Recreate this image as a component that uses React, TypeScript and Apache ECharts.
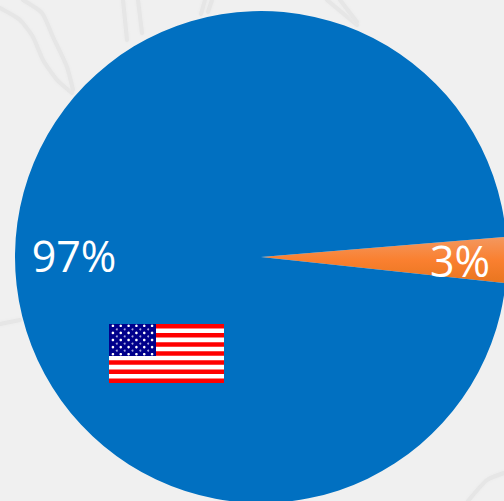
import React, { useEffect, useRef } from "react";
import * as echarts from "echarts";

const categories = ["Other", "USA"];
const values = [3, 97];
const sliceColors = ["#f57f2c", "#0170c1"];

const mapLines: number[][][] = [
  [[0, 8], [20, 20], [33, 37], [43, 60], [57, 80], [72, 93]],
  [[23, 0], [42, 13], [53, 37], [67, 67], [73, 90]],
  [[123, 0], [127, 40]],
  [[138, 0], [142, 33]],
  [[205, 0], [201, 14]],
  [[212, 0], [208, 12]],
  [[327, 0], [357, 25]],
  [[340, 0], [357, 22]],
  [[0, 324], [20, 320]],
  [[504, 473], [487, 480], [468, 501]],
];

const FLAG = { x: 109, y: 324, w: 115, h: 59, cw: 47, ch: 32 };

function flagElements() {
  const out: any[] = [];
  const sh = FLAG.h / 13;
  out.push({ type: "rect", shape: { x: FLAG.x, y: FLAG.y, width: FLAG.w, height: FLAG.h }, style: { fill: "#ffffff" }, z: 20 });
  for (let i = 0; i < 13; i += 2) {
    out.push({ type: "rect", shape: { x: FLAG.x, y: FLAG.y + i * sh, width: FLAG.w, height: sh }, style: { fill: "#ff0000" }, z: 21 });
  }
  out.push({ type: "rect", shape: { x: FLAG.x, y: FLAG.y, width: FLAG.cw, height: FLAG.ch }, style: { fill: "#00008b" }, z: 22 });
  for (let r = 0; r < 9; r++) {
    const n = r % 2 === 0 ? 6 : 5;
    for (let c = 0; c < n; c++) {
      const sx = FLAG.cw / 6;
      const x = FLAG.x + sx * (c + (r % 2 === 0 ? 0.5 : 1));
      const y = FLAG.y + (FLAG.ch / 9) * (r + 0.5);
      out.push({ type: "circle", shape: { cx: x, cy: y, r: r % 2 === 0 ? 1.3 : 1 }, style: { fill: r % 2 === 0 ? "#ffffff" : "#a9a9dc" }, z: 23 });
    }
  }
  return out;
}

export default function App() {
  const ref = useRef<HTMLDivElement>(null);
  useEffect(() => {
    document.body.style.margin = "0";
    const chart = echarts.init(ref.current!, undefined, { renderer: "svg" });
    chart.setOption({
      animation: false,
      backgroundColor: "#f0f0f0",
      graphic: [
        ...mapLines.map((pts) => ({
          type: "polyline",
          z: -1,
          silent: true,
          shape: { points: pts, smooth: 0.2 },
          style: { stroke: "#e6e6e6", lineWidth: 4, fill: null, lineJoin: "round", lineCap: "round", shadowBlur: 3, shadowColor: "#e9e9e9" },
        })),
        ...flagElements(),
      ],
      series: [
        {
          type: "pie",
          center: [261, 257],
          radius: [0, 246],
          startAngle: 4.7,
          clockwise: true,
          z: 5,
          silent: true,
          label: {
            show: true,
            position: "inside",
            formatter: "{d}%",
            color: "#ffffff",
            fontFamily: "Open Sans",
            fontSize: 43,
          },
          labelLine: { show: false },
          labelLayout: (p: any) =>
            p.dataIndex === 0
              ? { x: 460, y: 260, align: "center", verticalAlign: "middle" }
              : { x: 74, y: 255, align: "center", verticalAlign: "middle" },
          data: categories.map((name, i) => ({
            name,
            value: values[i],
            itemStyle: {
              color:
                i === 0
                  ? new echarts.graphic.LinearGradient(0, 0, 0, 1, [
                      { offset: 0, color: "#f39860" },
                      { offset: 0.5, color: "#fa8030" },
                      { offset: 1, color: "#e8751f" },
                    ])
                  : sliceColors[i],
            },
          })),
        },
      ],
    });
    return () => chart.dispose();
  }, []);
  return <div ref={ref} style={{ width: 504, height: 501 }} />;
}
